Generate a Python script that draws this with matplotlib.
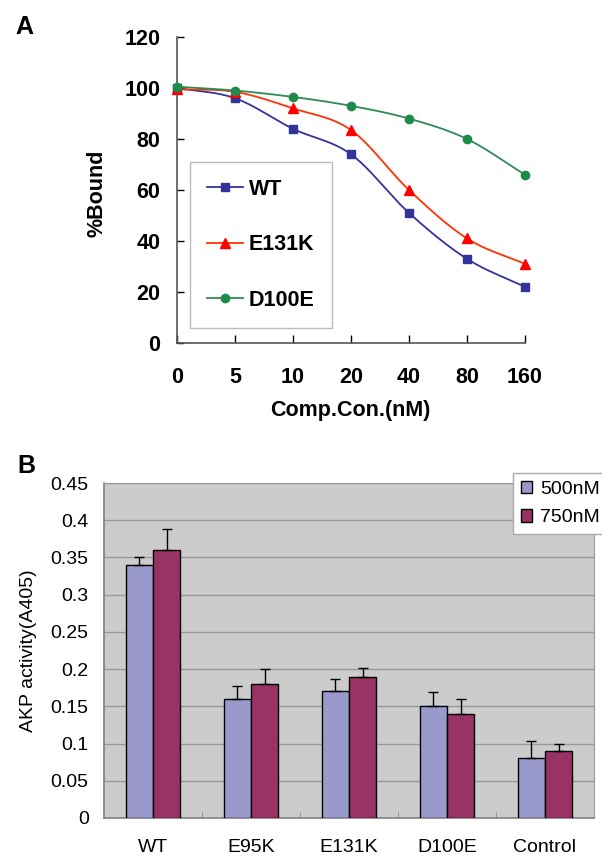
import numpy as np
import matplotlib
matplotlib.use("Agg")
import matplotlib.pyplot as plt
from matplotlib.patches import Patch

plt.rcParams['font.family'] = ['Liberation Sans', 'DejaVu Sans']

# ---- Panel A data ----
conc_labels = ["0", "5", "10", "20", "40", "80", "160"]
wt = [100, 96, 84, 74, 51, 33, 22]
e131k = [99.5, 98.5, 92, 83.5, 60, 41, 31]
d100e = [100.5, 99, 96.5, 93, 88, 80, 66]
yticks_a = [0, 20, 40, 60, 80, 100, 120]

# ---- Panel B data ----
groups = ["WT", "E95K", "E131K", "D100E", "Control"]
v500 = [0.34, 0.16, 0.17, 0.15, 0.08]
e500 = [0.01, 0.017, 0.017, 0.019, 0.023]
v750 = [0.36, 0.18, 0.19, 0.14, 0.09]
e750 = [0.028, 0.02, 0.012, 0.02, 0.01]
yticks_b = [0, 0.05, 0.1, 0.15, 0.2, 0.25, 0.3, 0.35, 0.4, 0.45]
ylabels_b = ["0", "0.05", "0.1", "0.15", "0.2", "0.25", "0.3", "0.35", "0.4", "0.45"]


def catmull(x, y, n=30):
    x = np.asarray(x, float); y = np.asarray(y, float)
    px = np.concatenate([[2 * x[0] - x[1]], x, [2 * x[-1] - x[-2]]])
    py = np.concatenate([[2 * y[0] - y[1]], y, [2 * y[-1] - y[-2]]])
    xs, ys = [], []
    t = np.linspace(0, 1, n)
    for i in range(1, len(px) - 2):
        p0, p1, p2, p3 = [np.array([px[j], py[j]]) for j in range(i - 1, i + 3)]
        for tt in t:
            pt = 0.5 * ((2 * p1) + (-p0 + p2) * tt + (2 * p0 - 5 * p1 + 4 * p2 - p3) * tt ** 2
                        + (-p0 + 3 * p1 - 3 * p2 + p3) * tt ** 3)
            xs.append(pt[0]); ys.append(pt[1])
    return np.array(xs), np.array(ys)


W, H = 602, 857
fig = plt.figure(figsize=(W / 100, H / 100), dpi=100)

# ---------- Panel A ----------
axA = fig.add_axes([177 / W, 1 - 343 / H, 348 / W, 306 / H])
xi = np.arange(len(conc_labels))
series = [(wt, "WT", "#333399", "#333399", "s", 6), (e131k, "E131K", "#FF3300", "#FF0000", "^", 7),
          (d100e, "D100E", "#2E8B57", "#1E8B4A", "o", 6)]
handles = []
for vals, lab, col, mcol, mk, ms in series:
    sx, sy = catmull(xi, vals)
    axA.plot(sx, sy, color=col, lw=1.3, clip_on=False)
    axA.plot(xi, vals, ls="none", marker=mk, color=mcol, ms=ms, clip_on=False, zorder=5)
    h, = axA.plot([], [], color=col, lw=1.3, marker=mk, ms=ms, mfc=mcol, mec=mcol)
    handles.append(h)
axA.set_xlim(0, 6)
axA.set_ylim(0, 120)
axA.set_xticks(xi)
axA.set_xticklabels(conc_labels, fontsize=15.5, fontweight="bold")
axA.set_yticks(yticks_a)
axA.set_yticklabels([str(v) for v in yticks_a], fontsize=15.5, fontweight="bold")
axA.tick_params(axis="x", direction="in", length=6, pad=17, width=1)
axA.tick_params(axis="y", direction="in", length=5, pad=12, width=1)
for s in ["top", "right"]:
    axA.spines[s].set_visible(False)
for s in ["left", "bottom"]:
    axA.spines[s].set_color("#555555")
    axA.spines[s].set_linewidth(1.2)
axA.set_xlabel("Comp.Con.(nM)", fontsize=15.5, fontweight="bold")
axA.xaxis.set_label_coords(0.497, -0.186)
axA.set_ylabel("%Bound", fontsize=15.5, fontweight="bold")
axA.yaxis.set_label_coords(-0.20, 0.49)
leg = axA.legend(handles, ["WT", "E131K", "D100E"], loc="lower left",
                 bbox_to_anchor=(0.037, 0.049), prop={"weight": "bold", "size": 15.5},
                 handlelength=1.67, handletextpad=0.28, labelspacing=1.6,
                 borderpad=0.8, borderaxespad=0, fancybox=False, frameon=True)
leg.get_frame().set_edgecolor("#AAAAAA")
leg.get_frame().set_linewidth(1.0)
fig.text(15 / W, 1 - 27 / H, "A", fontsize=18, fontweight="bold", va="center", ha="left")

# ---------- Panel B ----------
axB = fig.add_axes([104 / W, 1 - 818 / H, 490 / W, 335 / H])
axB.set_facecolor("#CCCCCC")
gx = np.arange(len(groups))
bw = 0.28
c500, c750 = "#9999CC", "#993366"
axB.bar(gx - bw / 2, v500, width=bw, color=c500, edgecolor="black", lw=1, zorder=3)
axB.bar(gx + bw / 2, v750, width=bw, color=c750, edgecolor="black", lw=1, zorder=3)
axB.errorbar(gx - bw / 2, v500, yerr=[np.zeros(len(v500)), e500], fmt="none",
             ecolor="black", elinewidth=1, capsize=3.8, capthick=1, zorder=4)
axB.errorbar(gx + bw / 2, v750, yerr=[np.zeros(len(v750)), e750], fmt="none",
             ecolor="black", elinewidth=1, capsize=3.8, capthick=1, zorder=4)
axB.set_xlim(-0.5, len(groups) - 0.5)
axB.set_ylim(0, 0.45)
axB.set_yticks(yticks_b)
axB.set_yticklabels(ylabels_b, fontsize=14)
axB.set_xticks(gx)
axB.set_xticklabels(groups, fontsize=14)
axB.set_xticks(np.arange(len(groups) - 1) + 0.5, minor=True)
axB.tick_params(axis="x", which="major", length=0, pad=15)
axB.tick_params(axis="x", which="minor", direction="in", length=4, color="#888888")
axB.tick_params(axis="y", length=0, pad=11)
axB.yaxis.grid(True, color="#999999", lw=1, zorder=0)
axB.set_axisbelow(True)
for s in ["top", "right"]:
    axB.spines[s].set_color("#999999")
for s in ["left", "bottom"]:
    axB.spines[s].set_color("#808080")
    axB.spines[s].set_linewidth(1.2)
axB.set_ylabel("AKP activity(A405)", fontsize=14)
axB.yaxis.set_label_coords(-0.137, 0.5)
lh = [Patch(facecolor=c500, edgecolor="black"), Patch(facecolor=c750, edgecolor="black")]
legB = fig.legend(lh, ["500nM", "750nM"], loc="upper left", bbox_to_anchor=(513 / W, 1 - 473 / H),
                  fontsize=14, handlelength=0.6, handleheight=0.6, handletextpad=0.4,
                  labelspacing=0.6, borderpad=0.4, fancybox=False, borderaxespad=0)
legB.get_frame().set_edgecolor("#AAAAAA")
legB.get_frame().set_facecolor("white")
legB.get_frame().set_alpha(1)
fig.text(17 / W, 1 - 466 / H, "B", fontsize=18, fontweight="bold", va="center", ha="left")

fig.savefig("out.png", dpi=100)
